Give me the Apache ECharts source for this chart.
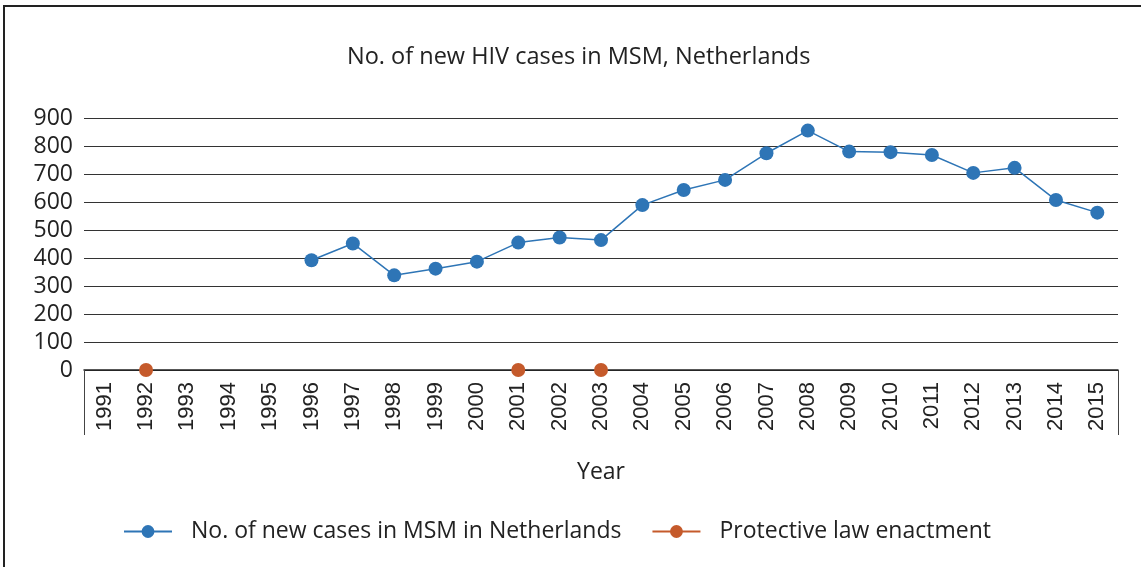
<!DOCTYPE html>
<html>
<head>
<meta charset="utf-8">
<script src="https://cdn.jsdelivr.net/npm/echarts@6/dist/echarts.min.js"></script>
<style>
	html, body { margin: 0; padding: 0; background: #fff; }
	#chart { width: 1141px; height: 567px; }
	#frame {
		position: absolute; left: 3px; top: 5px; right: -10px; bottom: -10px;
		border-left: 2px solid #222; border-top: 2px solid #222;
		pointer-events: none;
	}
</style>
</head>
<body>
<div id="chart"></div>
<div id="frame"></div>
<script>
const years = ['1991', '1992', '1993', '1994', '1995', '1996', '1997', '1998', '1999', '2000',
	'2001', '2002', '2003', '2004', '2005', '2006', '2007', '2008', '2009', '2010',
	'2011', '2012', '2013', '2014', '2015'];

// new HIV cases in MSM (none reported before 1996)
const newCases = [null, null, null, null, null, 392, 452, 338, 362, 387,
	455, 473, 464, 589, 643, 679, 774, 855, 780, 778,
	768, 704, 722, 607, 562];

// years where a protective law was enacted, plotted on the 0 line
const lawEnactment = [null, 0, null, null, null, null, null, null, null, null,
	0, null, 0, null, null, null, null, null, null, null,
	null, null, null, null, null];

const chart = echarts.init(document.getElementById('chart'));
const font = '"Open Sans", Lato, sans-serif';

chart.setOption({
	animation: false,
	title: {
		text: 'No. of new HIV cases in MSM, Netherlands',
		left: 342,
		top: 40,
		textStyle: { fontFamily: font, fontSize: 23.5, fontWeight: 'normal', color: '#222' }
	},
	grid: {
		left: 84,
		right: 23,
		top: 118,
		bottom: 197
	},
	legend: {
		bottom: 19,
		left: 118,
		itemWidth: 48,
		itemHeight: 16,
		itemGap: 30,
		textStyle: { fontFamily: font, fontSize: 23, color: '#222', padding: [0, 0, 0, 14] },
		data: ['No. of new cases in MSM in Netherlands', 'Protective law enactment']
	},
	xAxis: {
		type: 'category',
		data: years,
		boundaryGap: true,
		name: 'Year',
		nameLocation: 'middle',
		nameGap: 91,
		nameTextStyle: { fontFamily: font, fontSize: 23, color: '#222' },
		axisLine: { lineStyle: { color: '#222', width: 1.5 } },
		axisTick: {
			show: true,
			interval: (i) => i === 0,
			length: 65,
			lineStyle: { color: '#444', width: 1 }
		},
		axisLabel: {
			interval: 0,
			rotate: 90,
			margin: 12,
			fontFamily: '"Liberation Sans", Arial, sans-serif',
			fontSize: 22,
			color: '#222'
		}
	},
	yAxis: {
		type: 'value',
		min: 0,
		max: 900,
		interval: 100,
		axisLine: { show: false },
		axisTick: { show: false },
		axisLabel: {
			margin: 11,
			fontFamily: font,
			fontSize: 23,
			color: '#222'
		},
		splitLine: { lineStyle: { color: '#333', width: 1.2 } }
	},
	series: [
		{
			name: 'No. of new cases in MSM in Netherlands',
			type: 'line',
			data: newCases,
			symbol: 'circle',
			symbolSize: 14,
			color: '#2E75B6',
			lineStyle: { width: 1.5 },
			connectNulls: false
		},
		{
			name: 'Protective law enactment',
			type: 'line',
			data: lawEnactment,
			symbol: 'circle',
			symbolSize: 14,
			color: '#C55A2B',
			lineStyle: { width: 1.5 },
			connectNulls: false,
			z: 5
		}
	]
});
</script>
</body>
</html>
